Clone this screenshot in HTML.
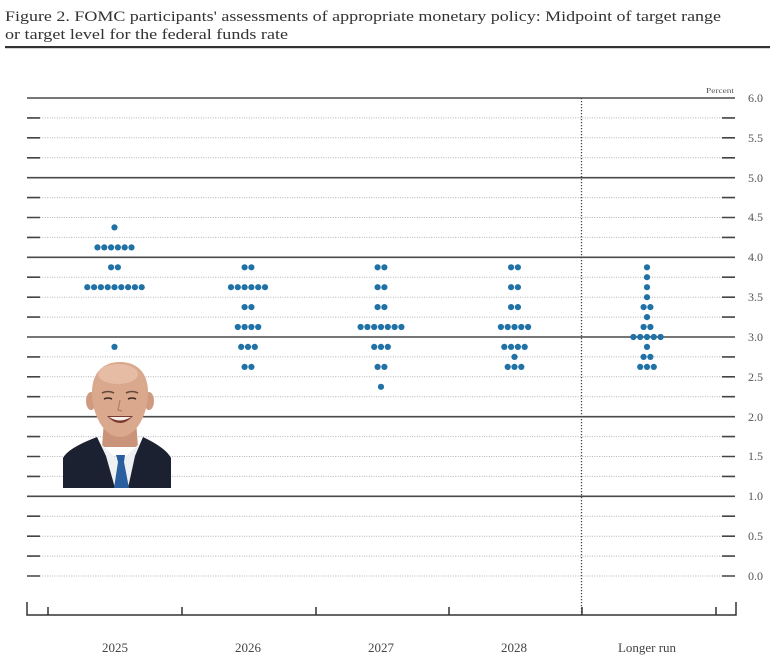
<!DOCTYPE html>
<html>
<head>
<meta charset="utf-8">
<style>
html,body{margin:0;padding:0;background:#fff;}
svg{display:block;}
text{font-family:"Liberation Serif",serif;}
</style>
</head>
<body>
<svg width="782" height="659" viewBox="0 0 782 659" xmlns="http://www.w3.org/2000/svg">
<rect width="782" height="659" fill="#fff"/>
<!-- Title -->
<text x="5" y="21" font-size="15" fill="#333" textLength="716" lengthAdjust="spacingAndGlyphs">Figure 2. FOMC participants' assessments of appropriate monetary policy: Midpoint of target range</text>
<text x="5" y="39" font-size="15" fill="#333" textLength="283" lengthAdjust="spacingAndGlyphs">or target level for the federal funds rate</text>
<rect x="5" y="46" width="765" height="2.2" fill="#333"/>

<text x="706" y="93" font-size="7" fill="#555" textLength="28" lengthAdjust="spacingAndGlyphs">Percent</text>

<!-- minor dotted gridlines -->
<g stroke="#b4b4b4" stroke-width="1" stroke-dasharray="1,1.4">
<line x1="40" x2="722" y1="117.9" y2="117.9"/>
<line x1="40" x2="722" y1="137.8" y2="137.8"/>
<line x1="40" x2="722" y1="157.8" y2="157.8"/>
<line x1="40" x2="722" y1="197.6" y2="197.6"/>
<line x1="40" x2="722" y1="217.5" y2="217.5"/>
<line x1="40" x2="722" y1="237.4" y2="237.4"/>
<line x1="40" x2="722" y1="277.2" y2="277.2"/>
<line x1="40" x2="722" y1="297.2" y2="297.2"/>
<line x1="40" x2="722" y1="317.1" y2="317.1"/>
<line x1="40" x2="722" y1="356.9" y2="356.9"/>
<line x1="40" x2="722" y1="376.8" y2="376.8"/>
<line x1="40" x2="722" y1="396.7" y2="396.7"/>
<line x1="40" x2="722" y1="436.6" y2="436.6"/>
<line x1="40" x2="722" y1="456.5" y2="456.5"/>
<line x1="40" x2="722" y1="476.4" y2="476.4"/>
<line x1="40" x2="722" y1="516.2" y2="516.2"/>
<line x1="40" x2="722" y1="536.2" y2="536.2"/>
<line x1="40" x2="722" y1="556.1" y2="556.1"/>
<line x1="40" x2="722" y1="576" y2="576"/>
</g>
<!-- end dashes for minor lines -->
<g stroke="#444" stroke-width="1.6">
<path d="M27 117.9H40M722 117.9H735M27 137.8H40M722 137.8H735M27 157.8H40M722 157.8H735M27 197.6H40M722 197.6H735M27 217.5H40M722 217.5H735M27 237.4H40M722 237.4H735M27 277.2H40M722 277.2H735M27 297.2H40M722 297.2H735M27 317.1H40M722 317.1H735M27 356.9H40M722 356.9H735M27 376.8H40M722 376.8H735M27 396.7H40M722 396.7H735M27 436.6H40M722 436.6H735M27 456.5H40M722 456.5H735M27 476.4H40M722 476.4H735M27 516.2H40M722 516.2H735M27 536.2H40M722 536.2H735M27 556.1H40M722 556.1H735M27 576H40M722 576H735"/>
</g>
<!-- solid integer lines -->
<g stroke="#4a4a4a" stroke-width="1.6">
<line x1="27" x2="735" y1="98" y2="98"/>
<line x1="27" x2="735" y1="177.7" y2="177.7"/>
<line x1="27" x2="735" y1="257.3" y2="257.3"/>
<line x1="27" x2="735" y1="337" y2="337"/>
<line x1="27" x2="735" y1="416.7" y2="416.7"/>
<line x1="27" x2="735" y1="496.3" y2="496.3"/>
</g>
<!-- vertical dotted separator -->
<line x1="581.5" x2="581.5" y1="98" y2="615" stroke="#444" stroke-width="1.3" stroke-dasharray="1.3,1.7"/>

<!-- right labels -->
<g font-size="12" fill="#555">
<text x="748" y="102">6.0</text>
<text x="748" y="142">5.5</text>
<text x="748" y="182">5.0</text>
<text x="748" y="221">4.5</text>
<text x="748" y="261">4.0</text>
<text x="748" y="301">3.5</text>
<text x="748" y="341">3.0</text>
<text x="748" y="381">2.5</text>
<text x="748" y="421">2.0</text>
<text x="748" y="460">1.5</text>
<text x="748" y="500">1.0</text>
<text x="748" y="540">0.5</text>
<text x="748" y="580">0.0</text>
</g>

<!-- bottom axis -->
<g stroke="#333" stroke-width="1.5" fill="none">
<path d="M27 602V615H736V602"/>
<path d="M48 607V615M182 607V615M316 607V615M449 607V615M582 607V615M716 607V615"/>
</g>
<g font-size="13" fill="#444" text-anchor="middle">
<text x="115" y="652">2025</text>
<text x="248" y="652">2026</text>
<text x="381" y="652">2027</text>
<text x="514" y="652">2028</text>
<text x="647" y="652">Longer run</text>
</g>

<!-- dots -->
<g fill="#1f71a6">
<!-- 2025 -->
<circle cx="114.5" cy="227.4" r="3.1"/>
<circle cx="111.1" cy="247.4" r="3.1"/><circle cx="117.9" cy="247.4" r="3.1"/><circle cx="104.3" cy="247.4" r="3.1"/><circle cx="124.7" cy="247.4" r="3.1"/><circle cx="97.5" cy="247.4" r="3.1"/><circle cx="131.5" cy="247.4" r="3.1"/>
<circle cx="111.1" cy="267.3" r="3.1"/><circle cx="117.9" cy="267.3" r="3.1"/>
<circle cx="114.5" cy="287.2" r="3.1"/><circle cx="107.7" cy="287.2" r="3.1"/><circle cx="121.3" cy="287.2" r="3.1"/><circle cx="100.9" cy="287.2" r="3.1"/><circle cx="128.1" cy="287.2" r="3.1"/><circle cx="94.1" cy="287.2" r="3.1"/><circle cx="134.9" cy="287.2" r="3.1"/><circle cx="87.3" cy="287.2" r="3.1"/><circle cx="141.7" cy="287.2" r="3.1"/>
<circle cx="114.5" cy="346.9" r="3.1"/>
<!-- 2026 -->
<circle cx="244.6" cy="267.3" r="3.1"/><circle cx="251.4" cy="267.3" r="3.1"/>
<circle cx="244.6" cy="287.2" r="3.1"/><circle cx="251.4" cy="287.2" r="3.1"/><circle cx="237.8" cy="287.2" r="3.1"/><circle cx="258.2" cy="287.2" r="3.1"/><circle cx="231" cy="287.2" r="3.1"/><circle cx="265" cy="287.2" r="3.1"/>
<circle cx="244.6" cy="307.1" r="3.1"/><circle cx="251.4" cy="307.1" r="3.1"/>
<circle cx="244.6" cy="327" r="3.1"/><circle cx="251.4" cy="327" r="3.1"/><circle cx="237.8" cy="327" r="3.1"/><circle cx="258.2" cy="327" r="3.1"/>
<circle cx="248" cy="346.9" r="3.1"/><circle cx="241.2" cy="346.9" r="3.1"/><circle cx="254.8" cy="346.9" r="3.1"/>
<circle cx="244.6" cy="366.9" r="3.1"/><circle cx="251.4" cy="366.9" r="3.1"/>
<!-- 2027 -->
<circle cx="377.6" cy="267.3" r="3.1"/><circle cx="384.4" cy="267.3" r="3.1"/>
<circle cx="377.6" cy="287.2" r="3.1"/><circle cx="384.4" cy="287.2" r="3.1"/>
<circle cx="377.6" cy="307.1" r="3.1"/><circle cx="384.4" cy="307.1" r="3.1"/>
<circle cx="381" cy="327" r="3.1"/><circle cx="374.2" cy="327" r="3.1"/><circle cx="387.8" cy="327" r="3.1"/><circle cx="367.4" cy="327" r="3.1"/><circle cx="394.6" cy="327" r="3.1"/><circle cx="360.6" cy="327" r="3.1"/><circle cx="401.4" cy="327" r="3.1"/>
<circle cx="381" cy="346.9" r="3.1"/><circle cx="374.2" cy="346.9" r="3.1"/><circle cx="387.8" cy="346.9" r="3.1"/>
<circle cx="377.6" cy="366.9" r="3.1"/><circle cx="384.4" cy="366.9" r="3.1"/>
<circle cx="381" cy="386.8" r="3.1"/>
<!-- 2028 -->
<circle cx="511.1" cy="267.3" r="3.1"/><circle cx="517.9" cy="267.3" r="3.1"/>
<circle cx="511.1" cy="287.2" r="3.1"/><circle cx="517.9" cy="287.2" r="3.1"/>
<circle cx="511.1" cy="307.1" r="3.1"/><circle cx="517.9" cy="307.1" r="3.1"/>
<circle cx="514.5" cy="327" r="3.1"/><circle cx="507.7" cy="327" r="3.1"/><circle cx="521.3" cy="327" r="3.1"/><circle cx="500.9" cy="327" r="3.1"/><circle cx="528.1" cy="327" r="3.1"/>
<circle cx="511.1" cy="346.9" r="3.1"/><circle cx="517.9" cy="346.9" r="3.1"/><circle cx="504.3" cy="346.9" r="3.1"/><circle cx="524.7" cy="346.9" r="3.1"/>
<circle cx="514.5" cy="356.9" r="3.1"/>
<circle cx="514.5" cy="366.9" r="3.1"/><circle cx="507.7" cy="366.9" r="3.1"/><circle cx="521.3" cy="366.9" r="3.1"/>
<!-- Longer run -->
<circle cx="647" cy="267.3" r="3.1"/>
<circle cx="647" cy="277.2" r="3.1"/>
<circle cx="647" cy="287.2" r="3.1"/>
<circle cx="647" cy="297.2" r="3.1"/>
<circle cx="643.6" cy="307.1" r="3.1"/><circle cx="650.4" cy="307.1" r="3.1"/>
<circle cx="647" cy="317.1" r="3.1"/>
<circle cx="643.6" cy="327" r="3.1"/><circle cx="650.4" cy="327" r="3.1"/>
<circle cx="647" cy="337" r="3.1"/><circle cx="640.2" cy="337" r="3.1"/><circle cx="653.8" cy="337" r="3.1"/><circle cx="633.4" cy="337" r="3.1"/><circle cx="660.6" cy="337" r="3.1"/>
<circle cx="647" cy="346.9" r="3.1"/>
<circle cx="643.6" cy="356.9" r="3.1"/><circle cx="650.4" cy="356.9" r="3.1"/>
<circle cx="647" cy="366.9" r="3.1"/><circle cx="640.2" cy="366.9" r="3.1"/><circle cx="653.8" cy="366.9" r="3.1"/>
</g>

<!-- Photo -->
<g>
  <!-- neck -->
  <path d="M104 420 L136 420 L138 447 L102 447 Z" fill="#c99479"/>
  <!-- shirt -->
  <path d="M97 440 L120 462 L143 440 L148 470 L140 488 L102 488 L93 470 Z" fill="#eef0f2"/>
  <!-- suit -->
  <path d="M63 488 L63 458 Q68 448 97 437 L106 456 L115 488 Z" fill="#1b2130"/>
  <path d="M171 488 L171 458 Q166 448 143 437 L135 456 L128 488 Z" fill="#1b2130"/>
  <!-- tie -->
  <path d="M116 455 L125 455 L124 462 L129 488 L114 488 L118 462 Z" fill="#2a5f9f"/>
  <!-- ears -->
  <ellipse cx="91" cy="401" rx="5" ry="9" fill="#cf9b80"/>
  <ellipse cx="149" cy="401" rx="5" ry="9" fill="#cf9b80"/>
  <!-- head -->
  <path d="M120 362 C102 362 92 374 92 392 C92 415 104 437 120 437 C136 437 148 415 148 392 C148 374 138 362 120 362 Z" fill="#d9a88d"/>
  <ellipse cx="118" cy="374" rx="20" ry="10" fill="#e6bca4"/>
  <!-- brows -->
  <path d="M102 393 Q108 390 114 393" stroke="#6a4a3a" stroke-width="1.6" fill="none"/>
  <path d="M126 393 Q132 390 138 393" stroke="#6a4a3a" stroke-width="1.6" fill="none"/>
  <!-- eyes -->
  <path d="M104 399 Q108 397 112 399" stroke="#3a2a22" stroke-width="1.6" fill="none"/>
  <path d="M128 399 Q132 397 136 399" stroke="#3a2a22" stroke-width="1.6" fill="none"/>
  <!-- nose -->
  <path d="M120 400 L118 410 L122 411" stroke="#b07e66" stroke-width="1.2" fill="none"/>
  <!-- smile -->
  <path d="M107 416 Q120 430 133 416 Z" fill="#7a3a32"/>
  <path d="M109 417 Q120 424 131 417 Z" fill="#f4f0ea"/>
</g>
</svg>
</body>
</html>
